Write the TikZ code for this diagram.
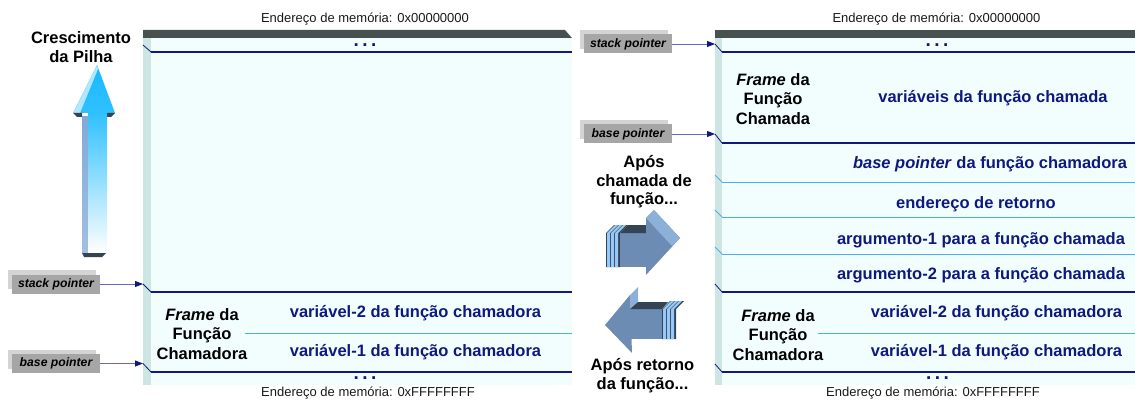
\documentclass[tikz,border=0pt]{standalone}
\usepackage{fontspec}
\setmainfont{Liberation Sans}
\usepackage{tikz}
\usetikzlibrary{arrows.meta, shadows}
\definecolor{stacknavy}{RGB}{15, 25, 125}
\definecolor{slotblue}{RGB}{75, 175, 240}
\definecolor{frontcyan}{RGB}{242, 254, 254}
\definecolor{sideteal}{RGB}{205, 230, 227}
\definecolor{topgray}{RGB}{72, 80, 80}
\definecolor{ptrgray}{RGB}{166, 166, 166}
\definecolor{ptrlight}{RGB}{212, 212, 212}
\definecolor{ptrline}{RGB}{105, 105, 190}
\definecolor{growcyan}{RGB}{25, 185, 255}
\definecolor{growside}{RGB}{130, 170, 215}
\definecolor{blockblue}{RGB}{108, 140, 180}
\definecolor{blocklight}{RGB}{140, 176, 216}
\definecolor{blockdark}{RGB}{52, 68, 85}
\definecolor{blockstripe}{RGB}{150, 200, 250}

\begin{document}
\begin{tikzpicture}[x=1pt, y=-1pt,
  bigtext/.style={font=\fontsize{16.5}{19.5}\selectfont\bfseries, align=center, inner sep=0pt},
  cell/.style={font=\fontsize{16.5}{19.5}\selectfont\bfseries, text=stacknavy, inner sep=0pt},
  addr/.style={font=\fontsize{13}{15}\selectfont, text=black!90, inner sep=0pt},
  dots/.style={font=\fontsize{19}{19}\selectfont\bfseries, text=stacknavy, inner sep=0pt},
  ptrbox/.style={fill=ptrgray, minimum width=88pt, minimum height=19pt, inner sep=0pt,
    font=\fontsize{12.2}{14}\selectfont\bfseries\itshape,
    general shadow={fill=ptrlight, shadow xshift=-4pt, shadow yshift=4.5pt}},
  ptrarrow/.style={draw=ptrline, line width=0.9pt, -{Triangle[length=8pt, width=6pt, color=stacknavy]}},
  frameline/.style={draw=stacknavy, line width=1.8pt},
  slotline/.style={draw=slotblue, line width=1pt},
  sidetick/.style={draw=stacknavy, line width=0.8pt},
  slottick/.style={draw=slotblue, line width=0.8pt}]
  \useasboundingbox (0,0) rectangle (1135,401);

  % pilha antes da chamada
  \fill[sideteal] (143,38) rectangle (151,385);
  \fill[frontcyan] (151,38) rectangle (572,385);
  \fill[topgray] (143,30) -- (565,30) -- (572,38) -- (143,38) -- cycle;

  \node[addr] (oldtop) at (365,19) {Endereço de memória: 0x00000000};
  \node[addr] (oldbottom) at (368,393) {Endereço de memória: 0xFFFFFFFF};
  \node[dots] (oldtopdots) at (365,45) {.\hspace{3.5pt}.\hspace{3.5pt}.};
  \node[dots] (oldbottomdots) at (365,378) {.\hspace{3.5pt}.\hspace{3.5pt}.};

  \node[ptrbox] (oldsp) at (56,284) {stack pointer};
  \node[ptrbox] (oldbp) at (56,363.5) {base pointer};
  \coordinate (oldsptip) at (143,284);
  \coordinate (oldbptip) at (143,363.5);
  \draw[ptrarrow] (oldsp.east) -- (oldsptip);
  \draw[ptrarrow] (oldbp.east) -- (oldbptip);

  \draw[sidetick] (143,45) -- (151,52);
  \draw[frameline] (151,52) -- (572,52);
  \draw[sidetick] (oldsptip) -- (151,292);
  \draw[frameline] (151,292) -- (572,292);
  \draw[sidetick] (oldbptip) -- (151,372);
  \draw[frameline] (151,372) -- (572,372);
  \draw[slotline] (245,333) -- (572,333);

  \node[bigtext] (oldframe) at (202,334) {\textit{Frame} da\\Função\\Chamadora};
  \node[cell] (oldvar2) at (415.5,313) {variável-2 da função chamadora};
  \node[cell] (oldvar1) at (415.5,352) {variável-1 da função chamadora};

  % seta de crescimento
  \node[bigtext, font=\fontsize{16.5}{19}\selectfont\bfseries] (growth) at (81,47.5) {Crescimento\\da Pilha};
  \shade[top color=growcyan, bottom color=growcyan!90!white] (97,65) -- (115,113) -- (73,113) -- cycle;
  \fill[growcyan!35!white] (97,65) -- (73,113) -- (80,113) -- (98,69) -- cycle;
  \fill[blockdark] (73,113) -- (82,113) -- (82,117) -- (77,117) -- cycle;
  \fill[blockdark] (107,113) -- (115,113) -- (111,117) -- (107,117) -- cycle;
  \shade[top color=growside, bottom color=growside!75!white] (82,117) rectangle (88,253);
  \shade[top color=growcyan!90!white, bottom color=white] (88,113) rectangle (107,253);
  \fill[blockdark] (82,253) -- (106,253) -- (102,257) -- (84,257) -- cycle;

  % pilha depois da chamada
  \fill[sideteal] (715,38) rectangle (722,385);
  \fill[frontcyan] (722,38) rectangle (1135,385);
  \fill[topgray] (715,30) -- (1135,30) -- (1135,38) -- (715,38) -- cycle;

  \node[addr] (newtop) at (936.5,19) {Endereço de memória: 0x00000000};
  \node[addr] (newbottom) at (933,393) {Endereço de memória: 0xFFFFFFFF};
  \node[dots] (newtopdots) at (937,45) {.\hspace{3.5pt}.\hspace{3.5pt}.};
  \node[dots] (newbottomdots) at (937.5,378) {.\hspace{3.5pt}.\hspace{3.5pt}.};

  \node[ptrbox] (newsp) at (628,44) {stack pointer};
  \node[ptrbox] (newbp) at (628,134) {base pointer};
  \coordinate (newsptip) at (715,44);
  \coordinate (newbptip) at (715,134);
  \draw[ptrarrow] (newsp.east) -- (newsptip);
  \draw[ptrarrow] (newbp.east) -- (newbptip);

  \draw[sidetick] (newsptip) -- (722,52);
  \draw[frameline] (722,52) -- (1135,52);
  \draw[sidetick] (newbptip) -- (722,143);
  \draw[frameline] (722,143) -- (1135,143);
  \foreach \y in {182, 217, 254} {
    \draw[slottick] (715,\y-7) -- (722,\y);
    \draw[slotline] (722,\y) -- (1135,\y);
  }
  \foreach \y in {292, 372} {
    \draw[sidetick] (715,\y-8) -- (722,\y);
    \draw[frameline] (722,\y) -- (1135,\y);
  }
  \draw[slotline] (818,333) -- (1135,333);

  \node[bigtext] (newframe) at (773,99) {\textit{Frame} da\\Função\\Chamada};
  \node[cell] (calleevars) at (993,98) {variáveis da função chamada};
  \node[cell] (savedbp) at (990,164) {\textit{base pointer} da função chamadora};
  \node[cell] (retaddr) at (976,204) {endereço de retorno};
  \node[cell] (arg1) at (981,240) {argumento-1 para a função chamada};
  \node[cell] (arg2) at (981,275) {argumento-2 para a função chamada};
  \node[bigtext] (callerframe) at (778,335) {\textit{Frame} da\\Função\\Chamadora};
  \node[cell] (newvar2) at (996.5,313) {variável-2 da função chamadora};
  \node[cell] (newvar1) at (996.5,352) {variável-1 da função chamadora};

  % setas do meio
  \node[bigtext, font=\fontsize{16.5}{18.5}\selectfont\bfseries] (callnote) at (644,182) {Após\\chamada de\\função...};
  \node[bigtext, font=\fontsize{16.5}{18.5}\selectfont\bfseries] (retnote) at (642.5,375.5) {Após retorno\\da função...};

  \fill[blockdark] (606,267) -- (606,233) -- (614,225) -- (628,225) -- (620,233) -- (620,267) -- cycle;
  \foreach \x in {607, 611, 615}
    \fill[blockstripe] (\x,267) -- (\x,233) -- (\x+8,225) -- (\x+11,225) -- (\x+3,233) -- (\x+3,267) -- cycle;
  \fill[blockblue] (620,233) rectangle (646,267);
  \fill[blockdark] (620,233) -- (628,225) -- (652,225) -- (646,233) -- cycle;
  \fill[blockblue] (646,218) -- (654,210) -- (680,238) -- (646,275) -- cycle;
  \fill[blocklight] (646,218) -- (654,210) -- (680,238) -- (672,246) -- cycle;

  \fill[blockblue] (605,325) -- (630,295) -- (632,353) -- cycle;
  \fill[blocklight] (630,295) -- (638,287) -- (638,302) -- (630,309) -- cycle;
  \fill[blockblue] (630,309) rectangle (662,339);
  \fill[blockdark] (630,309) -- (638,302) -- (668,302) -- (662,309) -- cycle;
  \fill[blockdark] (662,339) -- (662,309) -- (670,301) -- (684,301) -- (676,309) -- (676,339) -- cycle;
  \foreach \x in {663, 667, 671}
    \fill[blockstripe] (\x,339) -- (\x,309) -- (\x+8,301) -- (\x+11,301) -- (\x+3,309) -- (\x+3,339) -- cycle;
\end{tikzpicture}
\end{document}
